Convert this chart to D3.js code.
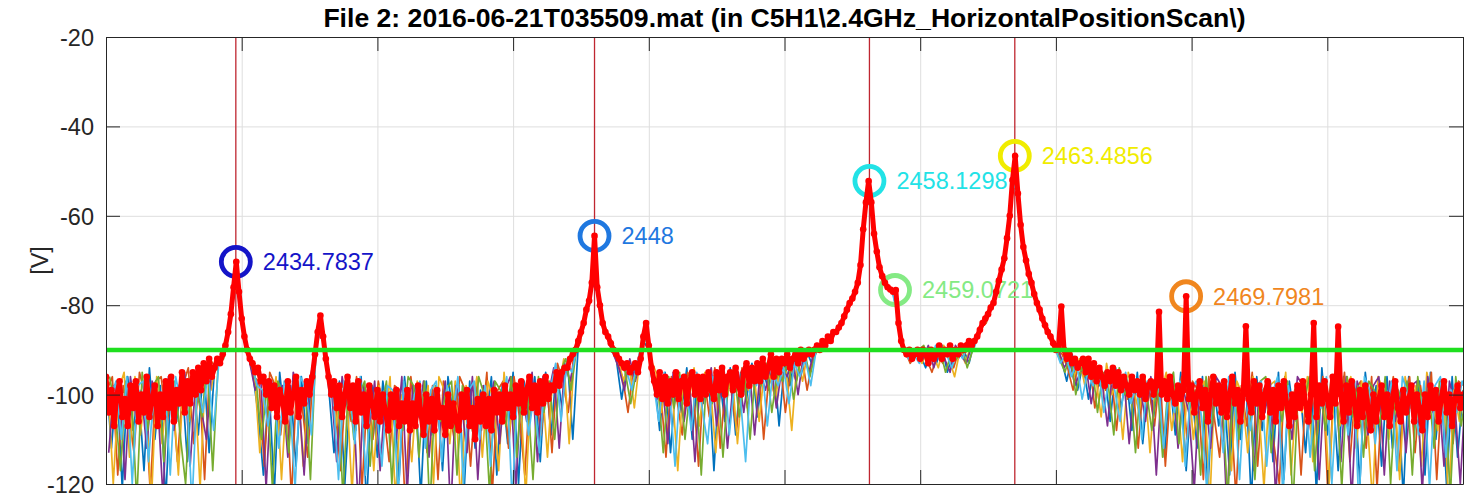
<!DOCTYPE html>
<html>
<head>
<meta charset="utf-8">
<script src="https://cdn.jsdelivr.net/npm/d3@7"></script>
<style>
  body { margin: 0; background: #fff; }
  svg text { font-family: "Liberation Sans", Arial, sans-serif; }
</style>
</head>
<body>
<svg id="chart" width="1474" height="497"></svg>
<script>
// ---- chart text and axes ----
const titleText = "File 2: 2016-06-21T035509.mat (in C5H1\\2.4GHz_HorizontalPositionScan\\)";
const yAxisLabel = "[V]";
const xTicks = [2430, 2435, 2440, 2445, 2450, 2455, 2460, 2465, 2470, 2475, 2480];
const yTicks = [-120, -100, -80, -60, -40, -20];

// ---- selected trace (red), sampled every 0.1 MHz from 2430 MHz ----
const freqStart = 2430;
const redStep = 0.1;
const redTrace = [
  -96, -104, -99, -107, -100, -97, -105, -101, -107, -98,
  -103, -97, -106, -100, -104, -96, -105, -101, -98, -107,
  -100, -105, -97, -103, -96, -106, -99, -102, -95, -104,
  -97, -102, -95, -100, -94, -99, -93, -97, -92, -96,
  -94, -92, -93, -91, -89, -86, -82, -76, -70.3, -77,
  -83, -87, -90, -92, -93, -95, -94, -97, -96, -100,
  -97, -103, -98, -105, -99, -101, -106, -97, -104, -100,
  -96, -105, -99, -102, -97, -100, -96, -91, -86, -82.3,
  -87, -92, -96, -100, -97, -103, -98, -105, -100, -96,
  -103, -98, -106, -97, -104, -100, -107, -98, -102, -105,
  -99, -106, -100, -104, -108, -100, -105, -99, -107, -102,
  -106, -99, -108, -102, -107, -98, -104, -109, -100, -106,
  -101, -108, -99, -105, -103, -109, -100, -107, -102, -106,
  -108, -100, -105, -99, -107, -103, -110, -101, -106, -100,
  -107, -101, -108, -99, -104, -100, -106, -98, -103, -100,
  -105, -98, -102, -97, -104, -99, -96, -103, -98, -104,
  -97, -102, -96, -101, -98, -99, -95, -98, -95, -94,
  -94, -92, -91, -90, -88, -86, -84, -81, -79, -75,
  -64.5, -76, -80, -84, -86, -87, -88.5, -90, -91, -92,
  -93, -94, -93, -95, -94, -93, -95, -92, -87, -84,
  -89, -94, -97, -100, -95, -101, -96, -102, -97, -100,
  -95, -101, -97, -96, -102, -97, -95, -100, -96, -101,
  -96, -100, -95, -99, -101, -95, -99, -94, -100, -96,
  -95, -99, -94, -98, -100, -95, -93, -98, -94, -97,
  -93, -97, -92, -96, -94, -91, -96, -92, -95, -92,
  -93, -91, -94, -92, -91, -93, -90, -92, -91, -90,
  -91, -90, -89, -90, -88, -89, -87, -88, -86, -86,
  -85, -84, -82.5, -81, -79.5, -78.5, -77, -75, -71, -63,
  -57, -52.2, -57, -64, -68, -71.5, -73.5, -75, -76, -76.5,
  -77, -76.6, -84, -88, -90, -91, -90, -92, -91, -90,
  -92, -90, -91, -93, -90, -92, -91, -89, -92, -90,
  -91, -89, -92, -90, -91, -89, -90, -89, -88, -89,
  -88, -87, -85.5, -84, -83, -82, -80.5, -79.5, -77, -74.5,
  -72, -69.5, -65, -60, -52, -46.6, -55, -62, -67, -70,
  -73, -75, -77.5, -79.5, -81, -83, -84.5, -86, -87, -88.5,
  -90, -89, -80.3, -90, -92, -91, -93, -92, -94, -93,
  -92, -95, -92, -96, -93, -97, -94, -96, -98, -95,
  -97, -94, -98, -95, -99, -96, -98, -100, -96, -99,
  -97, -100, -96, -101, -98, -97, -100, -98, -81.5, -100,
  -97, -101, -96, -100, -102, -98, -101, -99, -78, -101,
  -98, -104, -100, -97, -103, -99, -106, -100, -96, -102,
  -98, -104, -97, -105, -100, -96, -102, -99, -106, -100,
  -84.7, -101, -104, -97, -102, -98, -105, -100, -97, -104,
  -99, -106, -98, -103, -97, -102, -107, -100, -105, -98,
  -103, -97, -102, -106, -100, -84, -105, -98, -102, -97,
  -101, -105, -96, -102, -84.8, -100, -106, -98, -104, -97,
  -102, -107, -99, -105, -98, -103, -108, -100, -106, -101,
  -98, -105, -100, -107, -101, -97, -103, -106, -99, -104,
  -101, -98, -106, -100, -103, -108, -100, -105, -98, -103,
  -99, -106, -101, -97, -104, -100, -107, -101, -98, -103,
  -100
];

// ---- other scan positions, sampled every 0.2 MHz, each with its own start offset ----
const scanStep = 0.2;
const scanOffsets = [0, 0.033, 0.067, 0.1, 0.133, 0.167];
const scanColors = ["#0072BD", "#D95319", "#EDB120", "#7E2F8E", "#77AC30", "#4DBEEE"];

const scanA = [
  -95, -112, -97, -121, -96, -108, -99, -117, -94, -110,
  -98, -124, -96, -106, -97, -115, -95, -109, -93, -113,
  -94, -93, -89, -82, -71, -83, -90, -95, -104, -118,
  -97, -122, -95, -107, -98, -116, -96, -111, -94, -86,
  -88, -98, -113, -97, -120, -99, -108, -96, -125, -98,
  -114, -97, -106, -99, -119, -96, -110, -98, -123, -97,
  -109, -99, -117, -96, -105, -98, -121, -97, -112, -99,
  -107, -96, -118, -98, -111, -95, -120, -97, -106, -96,
  -115, -95, -109, -94, -103, -92, -110, -89, -84, -78,
  -66, -80, -86, -88, -92, -101, -93, -96, -93, -88,
  -90, -96, -108, -95, -113, -97, -104, -94, -110, -96,
  -102, -95, -117, -96, -106, -94, -109, -95, -101, -93,
  -105, -94, -99, -92, -107, -93, -98, -91, -96, -90,
  -93, -90, -89, -87, -86, -85, -82, -79, -77, -71,
  -57, -57, -68, -73, -76, -77, -84, -90, -92, -90,
  -91, -94, -90, -93, -89, -95, -91, -92, -90, -93,
  -88, -86, -83, -81, -77, -72, -65, -52, -55, -67,
  -73, -77, -81, -84, -87, -90, -92, -97, -91, -99,
  -93, -101, -94, -98, -95, -106, -94, -103, -96, -108,
  -95, -111, -97, -105, -96, -114, -97, -109, -95, -117,
  -98, -112, -96, -121, -97, -107, -99, -118, -95, -110,
  -97, -124, -96, -108, -98, -115, -95, -119, -97, -106,
  -99, -113, -96, -122, -94, -109, -98, -117, -96, -111,
  -97, -120, -95, -106, -98, -116, -96, -112, -99, -123,
  -96, -108, -97, -118, -95, -110, -98, -121, -96, -114,
  -99
];
const scanB = [
  -99, -96, -118, -98, -104, -113, -95, -100, -122, -97,
  -96, -107, -99, -115, -98, -94, -111, -96, -119, -92,
  -94, -92, -90, -81, -73, -84, -91, -96, -97, -116,
  -95, -98, -109, -97, -123, -96, -103, -114, -95, -85,
  -89, -97, -100, -117, -98, -106, -96, -121, -99, -110,
  -97, -104, -115, -98, -99, -126, -96, -107, -100, -113,
  -98, -119, -97, -103, -110, -96, -99, -116, -98, -108,
  -95, -122, -99, -97, -112, -96, -105, -118, -97, -100,
  -109, -96, -113, -93, -97, -104, -91, -89, -84, -77,
  -69, -81, -87, -89, -93, -96, -104, -94, -94, -86,
  -91, -97, -99, -114, -96, -101, -109, -95, -98, -116,
  -96, -105, -94, -112, -97, -99, -108, -94, -103, -96,
  -93, -110, -95, -100, -92, -104, -94, -97, -91, -99,
  -92, -90, -89, -87, -86, -85, -82, -79, -76, -69,
  -55, -59, -69, -74, -76, -77, -85, -90, -93, -91,
  -90, -92, -95, -91, -93, -89, -94, -90, -91, -89,
  -88, -85, -84, -80, -76, -71, -63.5, -50, -57, -68,
  -74, -78, -82, -85, -87, -90, -91, -94, -99, -93,
  -96, -92, -103, -95, -99, -94, -108, -96, -101, -97,
  -112, -96, -99, -107, -95, -116, -98, -103, -96, -110,
  -97, -99, -119, -96, -105, -114, -97, -101, -123, -98,
  -107, -95, -116, -99, -97, -111, -120, -96, -104, -98,
  -118, -97, -100, -109, -96, -124, -98, -106, -95, -115,
  -99, -97, -112, -96, -121, -98, -103, -96, -117, -100,
  -96, -113, -98, -107, -95, -119, -97, -100, -111, -97,
  -98
];
const scanC = [
  -97, -120, -99, -95, -114, -96, -109, -98, -125, -96,
  -111, -97, -100, -118, -95, -106, -97, -121, -94, -99,
  -92, -92, -87, -78, -75, -86, -92, -95, -113, -97,
  -104, -96, -119, -98, -101, -97, -116, -98, -93, -83,
  -91, -96, -107, -98, -99, -122, -97, -105, -99, -117,
  -98, -108, -96, -124, -100, -103, -115, -97, -106, -98,
  -120, -96, -99, -111, -97, -125, -98, -104, -96, -114,
  -97, -101, -117, -95, -108, -98, -99, -123, -96, -102,
  -97, -114, -95, -99, -92, -111, -90, -88, -83, -76,
  -73, -83, -87, -90, -92, -97, -93, -103, -92, -84,
  -92, -95, -104, -96, -99, -117, -97, -102, -94, -107,
  -95, -98, -113, -96, -101, -95, -111, -96, -99, -95,
  -106, -94, -96, -101, -93, -95, -108, -92, -97, -90,
  -91, -90, -88, -87, -86, -84.5, -81.5, -79, -76, -66,
  -54, -62, -70.5, -74.5, -76.3, -77, -87, -90, -92, -91,
  -93, -90, -91, -94, -89, -92, -96, -90, -93, -89,
  -87, -84.5, -82.3, -79.8, -75.3, -70.3, -61.5, -48.2, -60, -69,
  -74.4, -79, -82.4, -85.5, -88, -90, -93, -90, -96, -92,
  -98, -94, -96, -105, -93, -100, -97, -110, -95, -99,
  -104, -96, -113, -97, -100, -95, -108, -99, -115, -96,
  -110, -99, -97, -125, -96, -104, -98, -117, -97, -100,
  -113, -96, -102, -121, -98, -97, -109, -95, -118, -99,
  -104, -96, -115, -98, -100, -120, -97, -107, -99, -96,
  -112, -97, -105, -124, -96, -99, -110, -98, -119, -96,
  -103, -98, -116, -95, -101, -108, -97, -125, -99, -106,
  -97
];
const scanD = [
  -113, -98, -97, -119, -96, -105, -99, -112, -97, -101,
  -123, -96, -108, -98, -95, -116, -97, -103, -110, -94,
  -92, -91, -86, -76, -77, -87, -93, -99, -96, -121,
  -97, -106, -98, -114, -95, -100, -118, -97, -91, -82.5,
  -92, -98, -115, -96, -103, -99, -126, -98, -107, -97,
  -117, -99, -101, -110, -96, -122, -98, -105, -97, -114,
  -99, -108, -97, -127, -98, -102, -113, -96, -119, -98,
  -104, -97, -111, -99, -96, -121, -98, -106, -95, -115,
  -96, -100, -94, -112, -93, -97, -91, -87, -82, -75,
  -77, -84, -88, -91, -94, -99, -92, -97, -92, -84,
  -96, -101, -97, -111, -95, -99, -106, -97, -115, -96,
  -100, -94, -107, -96, -112, -98, -95, -104, -94, -109,
  -95, -99, -93, -103, -94, -96, -92, -100, -91, -95,
  -90, -90, -89, -88, -86, -84, -81, -78.5, -75, -63,
  -53, -64, -72, -75, -77, -77, -88, -91, -92, -91,
  -92, -89, -94, -90, -92, -95, -89, -91, -93, -89,
  -87, -84, -82, -80, -75, -70, -60, -47, -62, -70,
  -75, -80, -83, -86, -89, -90, -94, -92, -98, -95,
  -93, -102, -95, -97, -107, -94, -99, -96, -111, -97,
  -98, -106, -96, -118, -97, -101, -96, -112, -99, -104,
  -121, -97, -100, -112, -96, -98, -126, -97, -108, -99,
  -96, -117, -98, -104, -97, -123, -99, -101, -110, -96,
  -98, -108, -96, -119, -97, -103, -98, -115, -96, -124,
  -97, -101, -109, -98, -96, -118, -97, -106, -99, -113,
  -98, -97, -122, -96, -104, -99, -116, -97, -102, -120,
  -98
];
const scanE = [
  -96, -103, -117, -97, -99, -124, -95, -108, -98, -96,
  -115, -98, -97, -109, -120, -96, -99, -105, -93, -117,
  -93, -92, -85, -74, -79, -88, -93, -97, -110, -98,
  -121, -97, -100, -113, -96, -105, -98, -119, -90, -84,
  -93, -99, -98, -123, -97, -110, -100, -97, -116, -99,
  -104, -97, -120, -99, -108, -96, -98, -114, -97, -126,
  -98, -106, -99, -97, -118, -98, -103, -109, -96, -100,
  -122, -97, -99, -107, -96, -114, -98, -100, -119, -96,
  -104, -97, -110, -95, -92, -99, -90, -86, -81, -72,
  -77, -85, -88, -91, -93, -95, -102, -95, -90, -86,
  -95, -98, -113, -96, -103, -95, -110, -98, -97, -118,
  -95, -102, -96, -114, -97, -94, -105, -96, -110, -94,
  -98, -93, -104, -95, -97, -92, -101, -94, -90, -96,
  -91, -89, -88, -87, -86, -83.5, -80.5, -78, -74, -61,
  -54, -65, -72, -75, -77, -79, -89, -91, -92, -90,
  -89, -93, -91, -90, -95, -91, -92, -89, -94, -90,
  -86.5, -83.7, -81.5, -78.8, -73.8, -68.2, -57.6, -49.1, -63.5, -70.9,
  -75.8, -80, -83.5, -86.3, -89, -92, -95, -91, -100, -94,
  -96, -93, -104, -95, -98, -109, -94, -100, -97, -113,
  -96, -99, -108, -97, -114, -98, -95, -111, -97, -103,
  -99, -118, -96, -107, -98, -101, -124, -96, -110, -98,
  -100, -119, -97, -96, -113, -99, -106, -97, -125, -98,
  -102, -96, -117, -99, -108, -97, -98, -121, -96, -105,
  -98, -114, -97, -99, -107, -96, -120, -98, -101, -97,
  -118, -96, -105, -98, -112, -97, -99, -123, -96, -107,
  -99
];
const scanF = [
  -101, -97, -110, -96, -120, -98, -97, -115, -99, -106,
  -97, -118, -96, -102, -98, -125, -97, -104, -95, -108,
  -92, -90, -83, -72, -81, -89, -93, -98, -99, -107,
  -98, -112, -97, -101, -121, -96, -99, -109, -88, -86,
  -95, -100, -119, -97, -98, -111, -96, -118, -100, -103,
  -116, -98, -99, -123, -97, -107, -100, -97, -112, -99,
  -97, -115, -98, -105, -96, -120, -99, -97, -110, -98,
  -116, -99, -103, -96, -124, -98, -97, -109, -100, -113,
  -97, -99, -93, -106, -93, -95, -89, -85, -80, -68,
  -79, -85, -88, -91, -93, -94, -99, -93, -88, -88,
  -97, -106, -95, -100, -116, -96, -98, -108, -95, -103,
  -111, -96, -99, -94, -109, -97, -100, -115, -95, -98,
  -93, -107, -95, -98, -94, -102, -93, -96, -92, -98,
  -90, -89, -88, -87, -85.5, -83, -80, -77.5, -72, -59,
  -56, -67, -73, -76, -77, -82, -90, -92, -91, -93,
  -90, -93, -89, -92, -91, -94, -90, -92, -88, -90,
  -86, -83.3, -81, -77.8, -72.8, -66.4, -54.4, -52.5, -65.5, -72,
  -76.8, -80.5, -84, -86.7, -89.5, -93, -91, -96, -93, -101,
  -95, -98, -94, -104, -96, -99, -106, -95, -102, -98,
  -110, -97, -101, -96, -112, -98, -104, -97, -116, -99,
  -97, -105, -122, -98, -100, -113, -96, -99, -119, -97,
  -108, -98, -97, -116, -100, -96, -123, -98, -105, -99,
  -97, -114, -99, -103, -96, -120, -98, -100, -109, -97,
  -125, -96, -99, -111, -98, -104, -97, -117, -96, -100,
  -99, -109, -97, -121, -98, -96, -114, -99, -104, -97,
  -100
];
const scanSeries = [scanA, scanB, scanC, scanD, scanE, scanF];

// ---- detected peaks ----
const peakFreqs  = [2434.7837, 2448, 2458.1298, 2459.0721, 2463.4856, 2469.7981];
const peakLevels = [-70.3, -64.5, -52.2, -76.6, -46.6, -78];
const peakColors = ["#1414c8", "#1f78e0", "#22e2e6", "#84ea84", "#f0ec00", "#f0861e"];
// carriers marked with a vertical line
const carrierFreqs = [2434.7837, 2448, 2458.1298, 2463.4856];
// detection threshold
const thresholdLevel = -90;

// ---- layout ----
const W = 1474, H = 497;
const plot = { left: 106, right: 1463, top: 37, bottom: 484 };
const axisColor = "#262626";
const fontSize = 23.5;

const svg = d3.select("#chart");
svg.append("rect").attr("width", W).attr("height", H).attr("fill", "#fff");

const x = d3.scaleLinear()
  .domain([xTicks[0], xTicks[xTicks.length - 1]])
  .range([plot.left, plot.right]);
const y = d3.scaleLinear()
  .domain([yTicks[0], yTicks[yTicks.length - 1]])
  .range([plot.bottom, plot.top]);

svg.append("defs").append("clipPath").attr("id", "plotClip")
  .append("rect")
  .attr("x", plot.left).attr("y", plot.top)
  .attr("width", plot.right - plot.left).attr("height", plot.bottom - plot.top);

// grid
const gridX = svg.append("g")
  .attr("transform", `translate(0,${plot.bottom})`)
  .call(d3.axisBottom(x).tickValues(xTicks).tickSize(-(plot.bottom - plot.top)).tickFormat(""));
const gridY = svg.append("g")
  .attr("transform", `translate(${plot.left},0)`)
  .call(d3.axisLeft(y).tickValues(yTicks).tickSize(-(plot.right - plot.left)).tickFormat(""));
[gridX, gridY].forEach(g => {
  g.select(".domain").remove();
  g.selectAll(".tick line").attr("stroke", "#dedede").attr("stroke-width", 1);
});

const dataLayer = svg.append("g").attr("clip-path", "url(#plotClip)");

// carrier lines
dataLayer.append("g").selectAll("line")
  .data(carrierFreqs).join("line")
  .attr("x1", d => x(d)).attr("x2", d => x(d))
  .attr("y1", plot.top).attr("y2", plot.bottom)
  .attr("stroke", "#bf2630").attr("stroke-width", 1.3);

// other scans
scanSeries.forEach((vals, k) => {
  const line = d3.line()
    .x((v, j) => x(freqStart + scanOffsets[k] + j * scanStep))
    .y(v => y(v));
  dataLayer.append("path")
    .attr("d", line(vals))
    .attr("fill", "none")
    .attr("stroke", scanColors[k])
    .attr("stroke-width", 1.7)
    .attr("stroke-linejoin", "round");
});

// peak markers and labels
const marks = svg.append("g");
peakFreqs.forEach((f, i) => {
  marks.append("circle")
    .attr("cx", x(f)).attr("cy", y(peakLevels[i])).attr("r", 14.5)
    .attr("fill", "none").attr("stroke", peakColors[i]).attr("stroke-width", 4.8);
  marks.append("text")
    .attr("x", x(f) + 27).attr("y", y(peakLevels[i]))
    .attr("dy", "0.36em")
    .attr("font-size", fontSize)
    .attr("fill", peakColors[i])
    .text(String(f));
});

// selected trace
const redLine = d3.line()
  .x((v, i) => x(freqStart + i * redStep))
  .y(v => y(v));
const redLayer = svg.append("g").attr("clip-path", "url(#plotClip)");
redLayer.append("path")
  .attr("d", redLine(redTrace))
  .attr("fill", "none").attr("stroke", "#ff0000")
  .attr("stroke-width", 5).attr("stroke-linejoin", "round");
redLayer.append("g").selectAll("circle")
  .data(redTrace).join("circle")
  .attr("cx", (v, i) => x(freqStart + i * redStep))
  .attr("cy", v => y(v))
  .attr("r", 3.3)
  .attr("fill", "#ff0000");

// threshold
svg.append("line")
  .attr("x1", x(xTicks[0])).attr("x2", x(xTicks[xTicks.length - 1]))
  .attr("y1", y(thresholdLevel)).attr("y2", y(thresholdLevel))
  .attr("stroke", "#1fdf1f").attr("stroke-width", 4.5);

// axes box with inward ticks
const plainNumber = d => String(d);
function styleAxis(g) {
  g.select(".domain").attr("stroke", axisColor).attr("stroke-width", 1);
  g.selectAll(".tick line").attr("stroke", axisColor).attr("stroke-width", 1);
  g.selectAll(".tick text").attr("fill", axisColor).attr("font-size", fontSize)
    .attr("font-family", "'Liberation Sans', Arial, sans-serif");
}
svg.append("g").attr("transform", `translate(0,${plot.bottom})`)
  .call(d3.axisBottom(x).tickValues(xTicks).tickSizeInner(-14).tickSizeOuter(0).tickPadding(14).tickFormat(plainNumber))
  .call(styleAxis);
svg.append("g").attr("transform", `translate(0,${plot.top})`)
  .call(d3.axisTop(x).tickValues(xTicks).tickSizeInner(-14).tickSizeOuter(0).tickFormat(""))
  .call(styleAxis);
svg.append("g").attr("transform", `translate(${plot.left},0)`)
  .call(d3.axisLeft(y).tickValues(yTicks).tickSizeInner(-14).tickSizeOuter(0).tickPadding(12).tickFormat(plainNumber))
  .call(styleAxis)
  .selectAll(".tick text").attr("dy", "0.36em");
svg.append("g").attr("transform", `translate(${plot.right},0)`)
  .call(d3.axisRight(y).tickValues(yTicks).tickSizeInner(-14).tickSizeOuter(0).tickFormat(""))
  .call(styleAxis);

// y label
svg.append("text")
  .attr("transform", `translate(48,${(plot.top + plot.bottom) / 2}) rotate(-90)`)
  .attr("text-anchor", "middle")
  .attr("font-size", fontSize)
  .attr("fill", axisColor)
  .text(yAxisLabel);

// title
svg.append("text")
  .attr("x", (plot.left + plot.right) / 2).attr("y", 27)
  .attr("text-anchor", "middle")
  .attr("font-size", 26.6)
  .attr("font-weight", "bold")
  .attr("fill", "#000")
  .text(titleText);
</script>
</body>
</html>
